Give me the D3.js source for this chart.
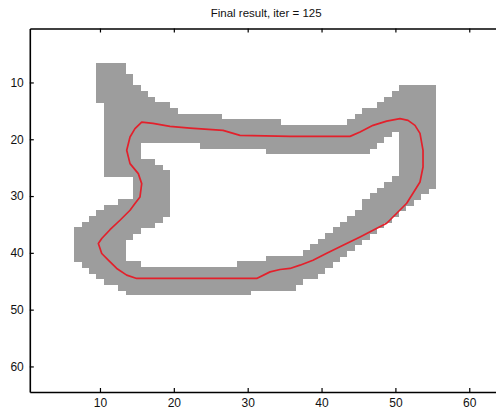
<!DOCTYPE html>
<html>
<head>
<meta charset="utf-8">
<script src="https://cdn.jsdelivr.net/npm/d3@7"></script>
<style>
  html, body { margin: 0; padding: 0; background: #fff; }
  svg { display: block; }
  .tick text { font-family: "Liberation Sans", Arial, sans-serif; font-size: 12px; fill: #111; }
</style>
</head>
<body>
<svg id="chart" width="496" height="416"></svg>
<script>
// ---- data ----
const titleText = "Final result, iter = 125";
const xTicks = [10, 20, 30, 40, 50, 60];
const yTicks = [10, 20, 30, 40, 50, 60];
const gridSize = 64;

// gray narrow-band mask: row index and its runs of filled columns [first, last]
const maskRows = [7, 8, 9, 10, 11, 12, 13, 14, 15, 16, 17, 18, 19, 20, 21, 22, 23, 24, 25, 26, 27,
  28, 29, 30, 31, 32, 33, 34, 35, 36, 37, 38, 39, 40, 41, 42, 43, 44, 45, 46, 47];
const maskRuns = [
  [[10, 13]],
  [[10, 13]],
  [[10, 14]],
  [[10, 14]],
  [[10, 15], [51, 55]],
  [[10, 16], [50, 55]],
  [[10, 17], [49, 55]],
  [[11, 19], [48, 55]],
  [[11, 20], [46, 55]],
  [[11, 26], [45, 55]],
  [[11, 34], [44, 55]],
  [[11, 55]],
  [[11, 49], [51, 55]],
  [[11, 48], [51, 55]],
  [[11, 15], [24, 47], [51, 55]],
  [[11, 15], [33, 46], [51, 55]],
  [[11, 15], [51, 55]],
  [[11, 17], [51, 55]],
  [[11, 18], [51, 55]],
  [[11, 19], [51, 55]],
  [[15, 19], [50, 55]],
  [[15, 19], [49, 55]],
  [[15, 19], [48, 54]],
  [[15, 19], [47, 53]],
  [[13, 19], [46, 52]],
  [[11, 19], [46, 51]],
  [[10, 19], [45, 50]],
  [[9, 18], [44, 49]],
  [[8, 17], [43, 48]],
  [[7, 15], [42, 47]],
  [[7, 14], [41, 46]],
  [[7, 13], [40, 45]],
  [[7, 13], [39, 44]],
  [[7, 13], [38, 43]],
  [[7, 13], [33, 42]],
  [[8, 15], [29, 41]],
  [[9, 40]],
  [[10, 39]],
  [[11, 37]],
  [[13, 36]],
  [[14, 30]]
];

// red contour (closed), in image coordinates (column, row)
const contourX = [15.65, 17.18, 19.48, 22.19, 26.66, 28.96, 35.73, 43.86, 45.21, 46.97, 48.82, 50.62,
  51.71, 52.65, 53.33, 53.74, 53.74, 53.33, 52.38, 51.53, 50.18, 48.82, 46.97, 45.21, 42.91, 40.70,
  38.84, 37.08, 35.73, 34.38, 33.03, 31.22, 14.97, 13.62, 12.27, 11.13, 10.24, 9.78, 10.24, 11.36,
  12.71, 14.07, 14.74, 15.42, 15.65, 15.19, 14.07, 13.62, 14.07, 14.74];
const contourY = [16.97, 17.20, 17.73, 18.03, 18.43, 19.31, 19.49, 19.49, 18.73, 17.55, 16.80, 16.38,
  16.68, 17.55, 18.96, 21.95, 24.89, 27.52, 29.51, 31.27, 33.03, 34.79, 36.02, 37.19, 38.65, 40.06,
  41.29, 42.17, 42.75, 42.93, 43.35, 44.51, 44.51, 43.93, 42.75, 41.29, 40.11, 38.35, 37.48, 35.93,
  34.26, 32.50, 31.32, 30.16, 27.81, 26.05, 24.29, 21.95, 19.61, 18.13];

// ---- drawing ----
const svg = d3.select("#chart");
const pLeft = 29.8, pRight = 502.5, pTop = 28.5, pBottom = 392;

const x = d3.scaleLinear().domain([0.5, gridSize + 0.5]).range([pLeft, pRight]);
const y = d3.scaleLinear().domain([0.5, gridSize + 0.5]).range([pTop, pBottom]);
const rx = v => Math.round(x(v));
const ry = v => Math.round(y(v));

svg.append("rect").attr("width", 496).attr("height", 416).attr("fill", "#fff");

// mask cells (each row slightly overlaps the one below to avoid hairline seams)
const cells = [];
maskRows.forEach((r, i) => maskRuns[i].forEach(run => cells.push({ r, c0: run[0], c1: run[1] })));
const lastRow = d3.max(maskRows);
svg.append("g")
  .selectAll("rect")
  .data(cells)
  .join("rect")
  .attr("x", d => rx(d.c0 - 0.5))
  .attr("y", d => ry(d.r - 0.5))
  .attr("width", d => rx(d.c1 + 0.5) - rx(d.c0 - 0.5))
  .attr("height", d => ry(d.r + 0.5) - ry(d.r - 0.5) + (d.r < lastRow ? 1 : 0))
  .attr("fill", "#9d9d9d")
  .attr("shape-rendering", "crispEdges");

// contour
const pts = contourX.map((v, i) => [v, contourY[i]]);
svg.append("path")
  .datum(pts)
  .attr("d", d3.line().x(d => x(d[0])).y(d => y(d[1])).curve(d3.curveLinearClosed))
  .attr("fill", "none")
  .attr("stroke", "#e3202b")
  .attr("stroke-width", 1.7)
  .attr("stroke-linejoin", "round");

// axes (MATLAB-like box, inward ticks)
function styleAxis(g) {
  g.selectAll(".domain").attr("stroke", "#000").attr("stroke-width", 1.6);
  g.selectAll(".tick line").attr("stroke", "#000").attr("stroke-width", 1.2);
}
svg.append("g").attr("transform", `translate(0,${pBottom})`)
  .call(d3.axisBottom(x).tickValues(xTicks).tickSizeInner(-4).tickSizeOuter(0).tickPadding(6))
  .call(styleAxis)
  .call(g => g.selectAll(".tick text").attr("font-family", null).attr("font-size", null));
svg.append("g").attr("transform", `translate(0,${pTop})`)
  .call(d3.axisTop(x).tickValues(xTicks).tickSizeInner(-4).tickSizeOuter(0).tickFormat(""))
  .call(styleAxis);
svg.append("g").attr("transform", `translate(${pLeft},0)`)
  .call(d3.axisLeft(y).tickValues(yTicks).tickSizeInner(-4).tickSizeOuter(0).tickPadding(6))
  .call(styleAxis)
  .call(g => g.selectAll(".tick text").attr("font-family", null).attr("font-size", null));
svg.append("g").attr("transform", `translate(${pRight},0)`)
  .call(d3.axisRight(y).tickValues(yTicks).tickSizeInner(-4).tickSizeOuter(0).tickFormat(""))
  .call(styleAxis);

// title
svg.append("text")
  .attr("x", (pLeft + pRight) / 2)
  .attr("y", 17)
  .attr("text-anchor", "middle")
  .attr("font-family", "Liberation Sans, Arial, sans-serif")
  .attr("font-size", 11.5)
  .attr("fill", "#111")
  .text(titleText);
</script>
</body>
</html>
